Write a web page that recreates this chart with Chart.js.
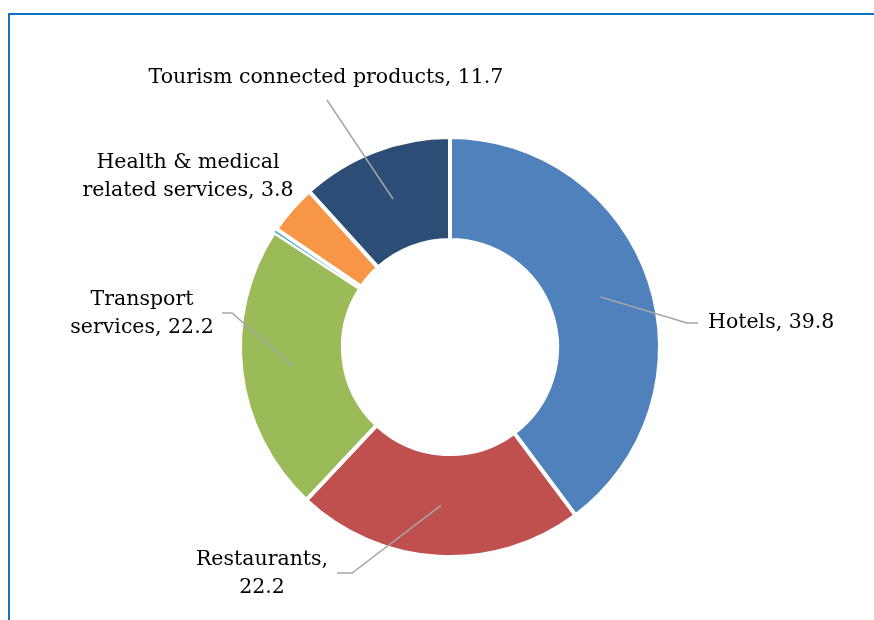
<!DOCTYPE html>
<html>
<head>
<meta charset="utf-8">
<script src="https://cdn.jsdelivr.net/npm/chart.js@4.4.1/dist/chart.umd.min.js"></script>
<style>
  html, body { margin: 0; padding: 0; background: #fff; }
  #wrap { position: relative; width: 874px; height: 620px; }
  #frame { position: absolute; left: 8px; top: 13px; right: 0; bottom: 0;
           border-top: 2px solid #0f73c6; border-left: 2px solid #0f73c6; }
  canvas { position: absolute; left: 0; top: 0; }
</style>
</head>
<body>
<div id="wrap">
  <div id="frame"></div>
  <canvas id="myGraf" width="874" height="620"></canvas>
</div>
<script>
// data
var categories = ["Hotels", "Restaurants", "Transport services", "Other", "Health & medical related services", "Tourism connected products"];
var values = [39.8, 22.2, 22.2, 0.3, 3.8, 11.7];
var colors = ['#4f81bd', '#c0504d', '#9bbb59', '#4bacc6', '#f79646', '#2c4d75'];

// where each label sits, relative to the centre of the ring (null = no label)
var labelLayout = [
    { tx: 258, ty: -24, align: 'left', brk: 0, line: [[237, -24], [248, -24]] },
    { tx: -188, ty: 213, align: 'center', brk: 1, line: [[-98, 226], [-113, 226]] },
    { tx: -308, ty: -47, align: 'center', brk: 1, line: [[-218, -34], [-228, -34]] },
    null,
    { tx: -262, ty: -184, align: 'center', brk: 3, line: null },
    { tx: -124, ty: -269, align: 'center', brk: 0, line: [[-123, -247]] }
];

var fontFamily = '"DejaVu Serif", Georgia, serif';
var fontSize = 20.5;
var lineHeight = 28;

var labelPlugin = {
    id: 'labelPlugin',
    afterDraw: function(chart) {
        var ctx = chart.ctx;
        var arcs = chart.getDatasetMeta(0).data;
        ctx.save();
        arcs.forEach(function(arc, i) {
            var lay = labelLayout[i];
            if (!lay) return;
            var cx = arc.x, cy = arc.y;
            var mid = (arc.startAngle + arc.endAngle) / 2;
            var rm = (arc.innerRadius + arc.outerRadius) / 2;
            if (lay.line) {
                ctx.beginPath();
                ctx.strokeStyle = '#a6a6a6';
                ctx.lineWidth = 1.5;
                ctx.moveTo(cx + Math.cos(mid) * rm, cy + Math.sin(mid) * rm);
                lay.line.forEach(function(p) { ctx.lineTo(cx + p[0], cy + p[1]); });
                ctx.stroke();
            }
            var text = categories[i] + ', ' + values[i];
            var lines = [text];
            if (lay.brk > 0) {
                var words = text.split(' ');
                lines = [words.slice(0, lay.brk).join(' '), words.slice(lay.brk).join(' ')];
            }
            ctx.fillStyle = '#000';
            ctx.font = fontSize + 'px ' + fontFamily;
            ctx.textAlign = lay.align;
            ctx.textBaseline = 'middle';
            lines.forEach(function(l, k) {
                ctx.fillText(l, cx + lay.tx, cy + lay.ty + k * lineHeight);
            });
        });
        ctx.restore();
    }
};

var ctx = document.getElementById('myGraf').getContext('2d');
var myGraf = new Chart(ctx, {
    type: 'doughnut',
    data: {
        labels: categories,
        datasets: [{
            data: values,
            backgroundColor: colors,
            borderColor: '#ffffff',
            borderWidth: [4, 4, 4, 1, 4, 4]
        }]
    },
    options: {
        responsive: false,
        animation: false,
        cutout: '51%',
        layout: { padding: { left: 238, right: 212, top: 135, bottom: 61 } },
        plugins: {
            legend: { display: false },
            tooltip: { enabled: false }
        }
    },
    plugins: [labelPlugin]
});
</script>
</body>
</html>
